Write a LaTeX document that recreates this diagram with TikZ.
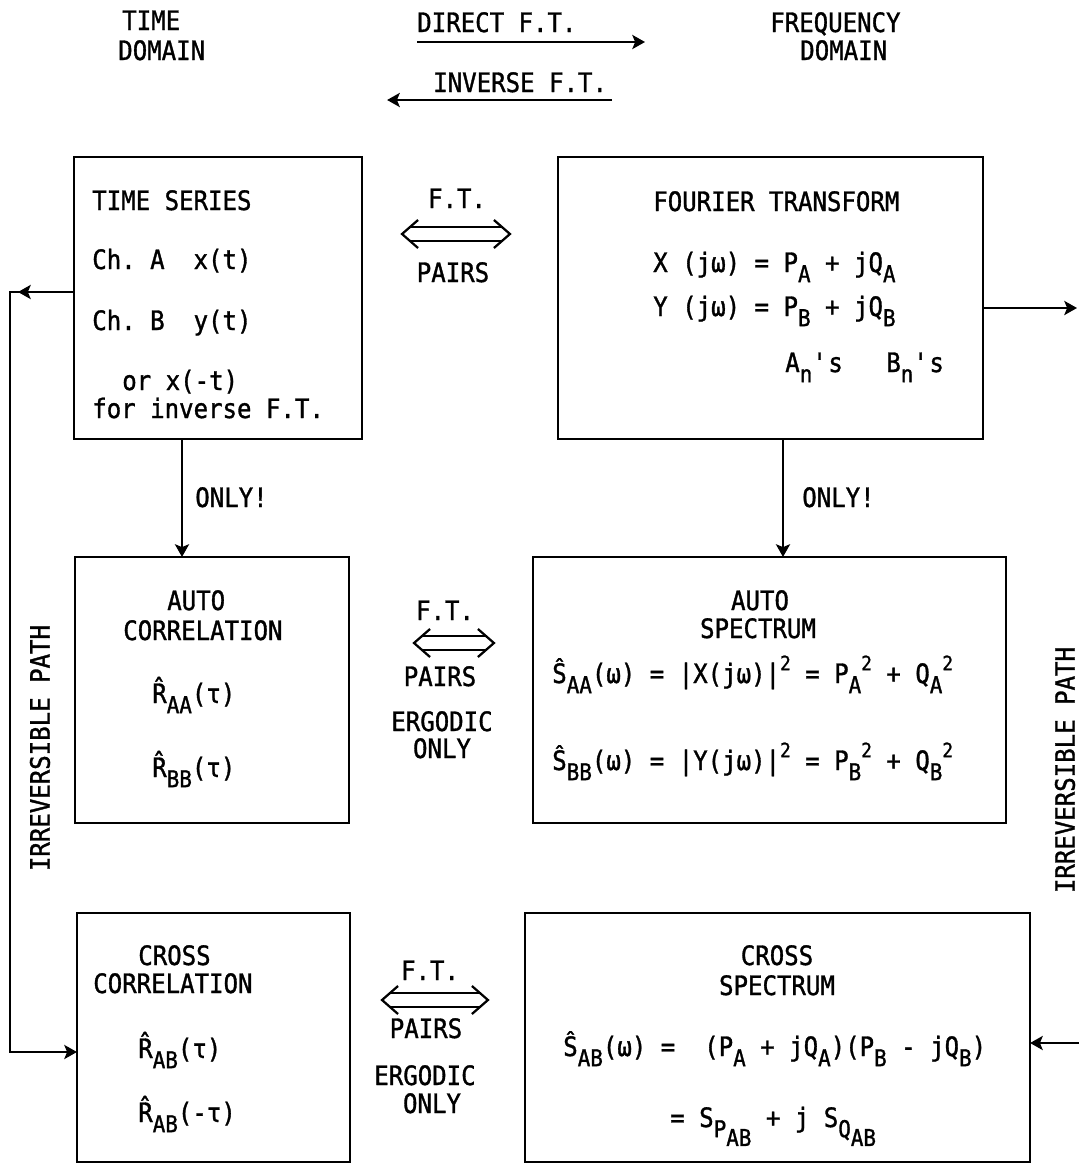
\documentclass[tikz,border=0pt]{standalone}
\usepackage{fontspec}
\setmainfont{DejaVu Sans Mono}[FakeStretch=0.9, FakeBold=1.2]
\usetikzlibrary{arrows.meta}
\frenchspacing

\newcommand\sub[1]{\raisebox{-0.38em}{\fontsize{16.5}{16.5}\selectfont #1}}
\newcommand\supr[1]{\raisebox{0.48em}{\fontsize{14}{14}\selectfont #1}}

\tikzstyle{box}=[draw, line width=2pt, inner sep=0pt, outer sep=0pt]
\tikzstyle{txt}=[inner sep=0pt, anchor=base west, font=\fontsize{19}{22}\selectfont]
\tikzstyle{ctxt}=[txt, anchor=base]
\tikzstyle{arr}=[line width=1.8pt, -{Stealth[length=9pt,width=10pt,inset=2pt]}]
\tikzstyle{pairs}=[double, double distance=8pt, line width=1.4pt, shorten <=0.22cm, shorten >=0.22cm]
\tikzstyle{chev}=[line width=1.6pt, line join=miter]

\begin{document}
\begin{tikzpicture}[x=0.025cm,y=-0.025cm]
    \useasboundingbox (0,0) rectangle (1079,1165);

    % headings
    \node [txt] (timeh) at (122,30) {TIME};
    \node [txt] (timedom) at (118,60) {DOMAIN};
    \node [txt] (freqh) at (770,32) {FREQUENCY};
    \node [txt] (freqdom) at (800,60) {DOMAIN};
    \node [txt] (direct) at (417,32) {DIRECT F.T.};
    \node [txt] (inverse) at (433,92) {INVERSE F.T.};
    \draw [arr] ([yshift=-0.25cm]direct.base west) -- ++(228,0);
    \draw [arr] ([xshift=0.12cm,yshift=-0.2cm]inverse.base east) -- ++(-225,0);

    % boxes
    \node [box, minimum width=7.2cm, minimum height=7.05cm] (timeser) at (218,298) {};
    \node [box, minimum width=10.625cm, minimum height=7.05cm] (fourier) at (770.5,298) {};
    \node [box, minimum width=6.85cm, minimum height=6.65cm] (autocor) at (212,690) {};
    \node [box, minimum width=11.825cm, minimum height=6.65cm] (autospec) at (769.5,690) {};
    \node [box, minimum width=6.825cm, minimum height=6.225cm] (crosscor) at (213.5,1037.5) {};
    \node [box, minimum width=12.625cm, minimum height=6.225cm] (crossspec) at (777.5,1037.5) {};

    % time series
    \node [txt] (ts1) at (92,210) {TIME SERIES};
    \node [txt] (ts2) at (92,269) {Ch.~A~~x(t)};
    \node [txt] (ts3) at (92,330) {Ch.~B~~y(t)};
    \node [txt] (ts4) at (122,390) {or x(-t)};
    \node [txt] (ts5) at (92,418) {for inverse F.T.};

    % fourier transform
    \node [txt] (ft1) at (653,211) {FOURIER TRANSFORM};
    \node [txt] (ft2) at (653,272) {X (jω) = P\sub{A} + jQ\sub{A}};
    \node [txt] (ft3) at (653,316) {Y (jω) = P\sub{B} + jQ\sub{B}};
    \node [txt] (ft4) at (785,372) {A\sub{n}\textquotesingle s~~~B\sub{n}\textquotesingle s};

    % auto correlation
    \node [txt] (ac1) at (167,610) {AUTO};
    \node [txt] (ac2) at (123,640) {CORRELATION};
    \node [txt] (ac3) at (152,703) {\^{R}\sub{AA}(τ)};
    \node [txt] (ac4) at (152,777) {\^{R}\sub{BB}(τ)};

    % auto spectrum
    \node [ctxt] (as1) at (760,610) {AUTO};
    \node [ctxt] (as2) at (758,638) {SPECTRUM};
    \node [txt] (as3) at (552,683) {Ŝ\sub{AA}(ω) = |X(jω)|\supr{2} = P\sub{A}\supr{2} + Q\sub{A}\supr{2}};
    \node [txt] (as4) at (552,770) {Ŝ\sub{BB}(ω) = |Y(jω)|\supr{2} = P\sub{B}\supr{2} + Q\sub{B}\supr{2}};

    % cross correlation
    \node [txt] (cc1) at (138,965) {CROSS};
    \node [txt] (cc2) at (93,993) {CORRELATION};
    \node [txt] (cc3) at (138,1058) {\^{R}\sub{AB}(τ)};
    \node [txt] (cc4) at (138,1122) {\^{R}\sub{AB}(-τ)};

    % cross spectrum
    \node [ctxt] (cs1) at (777,965) {CROSS};
    \node [ctxt] (cs2) at (777,995) {SPECTRUM};
    \node [txt] (cs3) at (563,1056) {Ŝ\sub{AB}(ω)~=~~(P\sub{A} + jQ\sub{A})(P\sub{B} - jQ\sub{B})};
    \node [txt] (cs4) at (670,1127) {= S\sub{P\sub{AB}} + j S\sub{Q\sub{AB}}};

    % transform pairs
    \coordinate (row1) at (0,234);
    \coordinate (row2) at (0,643);
    \coordinate (row3) at (0,1000);
    \foreach \a/\b/\r/\sl/\sr in {timeser/fourier/row1/40/48, autocor/autospec/row2/65/39, crosscor/crossspec/row3/32/37} {
        \path (\a.east |- \r) ++(\sl,0) coordinate (pl) (\b.west |- \r) ++(-\sr,0) coordinate (pr);
        \draw [pairs] (pl) -- (pr);
        \draw [chev] ([shift={(16,-14)}]pl) -- (pl) -- ([shift={(16,14)}]pl);
        \draw [chev] ([shift={(-16,-14)}]pr) -- (pr) -- ([shift={(-16,14)}]pr);
    }
    \node [ctxt] (p1a) at (457,208) {F.T.};
    \node [ctxt] (p1b) at (453,282) {PAIRS};
    \node [ctxt] (p2a) at (445,620) {F.T.};
    \node [ctxt] (p2b) at (440,686) {PAIRS};
    \node [ctxt] (p2c) at (442,731) {ERGODIC};
    \node [ctxt] (p2d) at (442,758) {ONLY};
    \node [ctxt] (p3a) at (430,980) {F.T.};
    \node [ctxt] (p3b) at (426,1038) {PAIRS};
    \node [ctxt] (p3c) at (425,1085) {ERGODIC};
    \node [ctxt] (p3d) at (432,1113) {ONLY};

    % only
    \coordinate (lcol) at (182,0);
    \coordinate (rcol) at (783,0);
    \draw [arr] (timeser.south -| lcol) -- (autocor.north -| lcol);
    \draw [arr] (fourier.south -| rcol) -- (autospec.north -| rcol);
    \node [txt] (only1) at (195,507) {ONLY!};
    \node [txt] (only2) at (802,507) {ONLY!};

    % irreversible paths
    \coordinate (lup) at (10,292);
    \coordinate (ldown) at (10,1052);
    \coordinate (rup) at (1077,308);
    \coordinate (rdown) at (1079,1043);
    \draw [arr] (timeser.west |- lup) -- (lup) -- (ldown) -- (crosscor.west |- ldown);
    \draw [arr] (timeser.west |- lup) -- ([xshift=0.2cm]lup);
    \draw [arr] (fourier.east |- rup) -- (rup);
    \draw [arr] (rdown) -- (crossspec.east |- rdown);
    \node [ctxt, rotate=90, anchor=center] (irrl) at (40,748) {IRREVERSIBLE PATH};
    \node [ctxt, rotate=90, anchor=center] (irrr) at (1065,770) {IRREVERSIBLE PATH};
\end{tikzpicture}
\end{document}
